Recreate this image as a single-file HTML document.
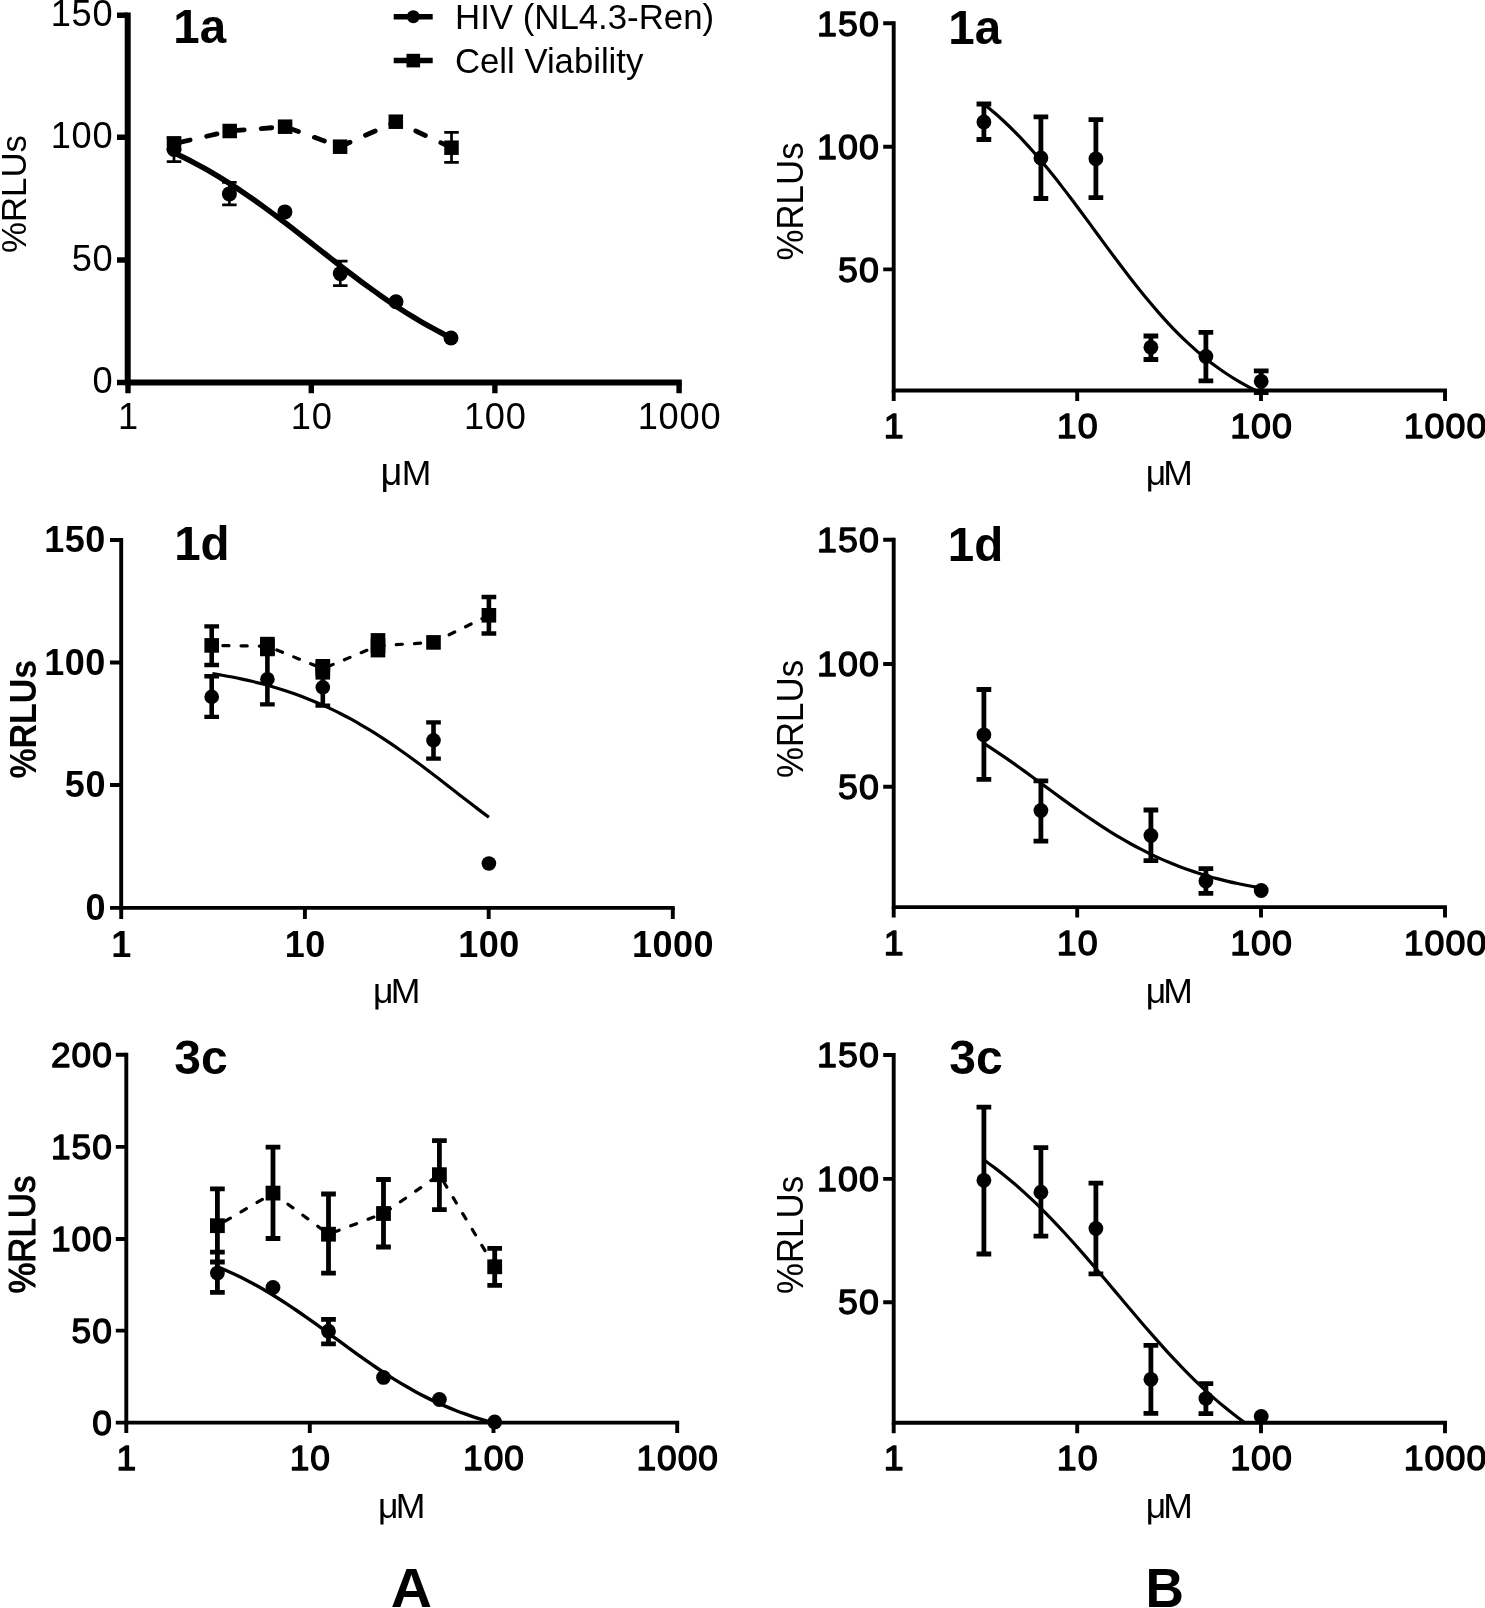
<!DOCTYPE html>
<html lang="en"><head><meta charset="utf-8"><title>Figure</title>
<style>
html,body{margin:0;padding:0;background:#fff;}
body{width:1485px;height:1608px;overflow:hidden;}
svg{display:block;filter:grayscale(1);}
text{font-family:"Liberation Sans",Arial,Helvetica,sans-serif;fill:#000;}
</style></head><body>
<svg width="1485" height="1608" viewBox="0 0 1485 1608">
<rect width="1485" height="1608" fill="#fff"/>
<g>
<path d="M127.7,12.5 V382.5 H681.8" fill="none" stroke="#000" stroke-width="6" stroke-linejoin="miter"/>
<path d="M127.7,15.2 H117 M127.7,137.3 H117 M127.7,260 H117 M127.7,382.5 H117 M128,382.5 V393.2 M311.3,382.5 V393.2 M494.9,382.5 V393.2 M679.1,382.5 V393.2" fill="none" stroke="#000" stroke-width="5.4"/>
<text x="50.7" y="26.1" font-size="36.2" letter-spacing="0.8">150</text>
<text x="50.7" y="148.2" font-size="36.2" letter-spacing="0.8">100</text>
<text x="71.63" y="270.9" font-size="36.2" letter-spacing="0.8">50</text>
<text x="92.57" y="393.4" font-size="36.2" letter-spacing="0.8">0</text>
<text x="117.93" y="429.4" font-size="36.2" letter-spacing="0.8">1</text>
<text x="290.77" y="429.4" font-size="36.2" letter-spacing="0.8">10</text>
<text x="463.9" y="429.4" font-size="36.2" letter-spacing="0.8">100</text>
<text x="637.63" y="429.4" font-size="36.2" letter-spacing="0.8">1000</text>
<polyline points="174,143.7 229.7,131 285.1,126.7 340.1,146.7 395.8,121.7 451.5,147.7" fill="none" stroke="#000" stroke-width="4.8" stroke-dasharray="10.6 17" stroke-dashoffset="21.7" stroke-linecap="round"/>
<path d="M174,152.77 C175.65,153.57 180.6,155.89 183.89,157.52 C187.19,159.16 190.49,160.84 193.79,162.58 C197.08,164.32 200.38,166.11 203.68,167.96 C206.98,169.8 210.27,171.7 213.57,173.64 C216.87,175.59 220.17,177.59 223.46,179.63 C226.76,181.68 230.06,183.77 233.36,185.91 C236.65,188.06 239.95,190.25 243.25,192.48 C246.55,194.71 249.85,196.99 253.14,199.3 C256.44,201.61 259.74,203.97 263.04,206.36 C266.33,208.75 269.63,211.17 272.93,213.62 C276.23,216.08 279.52,218.56 282.82,221.07 C286.12,223.57 289.42,226.1 292.71,228.65 C296.01,231.19 299.31,233.76 302.61,236.33 C305.9,238.9 309.2,241.48 312.5,244.06 C315.8,246.65 319.1,249.24 322.39,251.82 C325.69,254.4 328.99,256.99 332.29,259.55 C335.58,262.12 338.88,264.68 342.18,267.21 C345.48,269.75 348.77,272.27 352.07,274.77 C355.37,277.26 358.67,279.74 361.96,282.18 C365.26,284.61 368.56,287.03 371.86,289.4 C375.15,291.77 378.45,294.12 381.75,296.41 C385.05,298.71 388.35,300.97 391.64,303.18 C394.94,305.4 398.24,307.57 401.54,309.69 C404.83,311.81 408.13,313.89 411.43,315.91 C414.73,317.94 418.02,319.91 421.32,321.84 C424.62,323.76 427.92,325.64 431.21,327.46 C434.51,329.28 437.81,331.05 441.11,332.77 C444.4,334.49 449.35,336.93 451,337.76" fill="none" stroke="#000" stroke-width="5.5"/>
<path d="M451.5,132.4 V162.4 M174,137.5 V161.7 M229.4,182.4 V204.9 M340.3,261.1 V285.6" fill="none" stroke="#000" stroke-width="2.7"/>
<path d="M444.25,132.4 H458.75 M444.25,162.4 H458.75 M166.75,137.5 H181.25 M166.75,161.7 H181.25 M222.15,182.4 H236.65 M222.15,204.9 H236.65 M333.05,261.1 H347.55 M333.05,285.6 H347.55" fill="none" stroke="#000" stroke-width="2.7"/>
<rect x="166.75" y="136.45" width="14.5" height="14.5"/>
<rect x="222.45" y="123.75" width="14.5" height="14.5"/>
<rect x="277.85" y="119.45" width="14.5" height="14.5"/>
<rect x="332.85" y="139.45" width="14.5" height="14.5"/>
<rect x="388.55" y="114.45" width="14.5" height="14.5"/>
<rect x="444.25" y="140.45" width="14.5" height="14.5"/>
<circle cx="174" cy="149.4" r="7.5"/>
<circle cx="229.4" cy="193.9" r="7.5"/>
<circle cx="284.9" cy="211.9" r="7.5"/>
<circle cx="340.3" cy="273.6" r="7.5"/>
<circle cx="396" cy="301.8" r="7.5"/>
<circle cx="451" cy="338" r="7.5"/>
</g>
<g>
<path d="M121.2,538.05 V907.9 H674.75" fill="none" stroke="#000" stroke-width="3.9" stroke-linejoin="miter"/>
<path d="M121.2,540 H110 M121.2,662.5 H110 M121.2,785 H110 M121.2,907.9 H110 M121.2,907.9 V919.1 M304.9,907.9 V919.1 M488.7,907.9 V919.1 M672.8,907.9 V919.1" fill="none" stroke="#000" stroke-width="3.9"/>
<text x="44.33" y="552.3" font-size="36" font-weight="700" letter-spacing="0.5">150</text>
<text x="44.33" y="674.8" font-size="36" font-weight="700" letter-spacing="0.5">100</text>
<text x="64.86" y="797.3" font-size="36" font-weight="700" letter-spacing="0.5">50</text>
<text x="85.38" y="920.2" font-size="36" font-weight="700" letter-spacing="0.5">0</text>
<text x="111.19" y="957" font-size="36" font-weight="700" letter-spacing="0.5">1</text>
<text x="284.63" y="957" font-size="36" font-weight="700" letter-spacing="0.5">10</text>
<text x="458.17" y="957" font-size="36" font-weight="700" letter-spacing="0.5">100</text>
<text x="632.01" y="957" font-size="36" font-weight="700" letter-spacing="0.5">1000</text>
<polyline points="211.7,645.4 267.4,646.2 322.8,668.7 378,645.7 433.5,642.4 488.9,615.3" fill="none" stroke="#000" stroke-width="3.2" stroke-dasharray="6.15 12.1" stroke-dashoffset="7.15" stroke-linecap="round"/>
<path d="M212.4,673.56 C214.05,673.84 218.98,674.63 222.28,675.21 C225.57,675.79 228.86,676.4 232.15,677.05 C235.44,677.69 238.73,678.36 242.03,679.07 C245.32,679.78 248.61,680.53 251.9,681.31 C255.19,682.1 258.48,682.92 261.77,683.78 C265.07,684.65 268.36,685.55 271.65,686.5 C274.94,687.45 278.23,688.44 281.52,689.48 C284.82,690.51 288.11,691.6 291.4,692.73 C294.69,693.87 297.98,695.05 301.27,696.29 C304.57,697.53 307.86,698.82 311.15,700.16 C314.44,701.5 317.73,702.9 321.02,704.35 C324.32,705.81 327.61,707.32 330.9,708.88 C334.19,710.45 337.48,712.07 340.77,713.75 C344.07,715.43 347.36,717.17 350.65,718.97 C353.94,720.76 357.23,722.62 360.52,724.53 C363.82,726.44 367.11,728.4 370.4,730.42 C373.69,732.44 376.98,734.52 380.27,736.64 C383.57,738.77 386.86,740.95 390.15,743.17 C393.44,745.39 396.73,747.67 400.02,749.98 C403.32,752.29 406.61,754.65 409.9,757.04 C413.19,759.43 416.48,761.86 419.77,764.31 C423.07,766.77 426.36,769.26 429.65,771.76 C432.94,774.27 436.23,776.8 439.52,779.33 C442.82,781.87 446.11,784.43 449.4,786.98 C452.69,789.54 455.98,792.11 459.27,794.66 C462.57,797.21 465.86,799.77 469.15,802.31 C472.44,804.84 475.73,807.37 479.02,809.88 C482.32,812.38 487.25,816.08 488.9,817.32" fill="none" stroke="#000" stroke-width="3.2"/>
<path d="M211.7,626.4 V665 M488.9,597 V633.5 M211.7,676.2 V716.9 M267.4,654 V704.4 M322.8,669.2 V705.6 M433.5,722.4 V758.6" fill="none" stroke="#000" stroke-width="4.6"/>
<path d="M204.35,626.4 H219.05 M204.35,665 H219.05 M481.55,597 H496.25 M481.55,633.5 H496.25 M204.35,676.2 H219.05 M204.35,716.9 H219.05 M260.05,654 H274.75 M260.05,704.4 H274.75 M315.45,669.2 H330.15 M315.45,705.6 H330.15 M426.15,722.4 H440.85 M426.15,758.6 H440.85" fill="none" stroke="#000" stroke-width="4.4"/>
<rect x="260.1" y="636.8" width="14.6" height="18.6"/>
<rect x="315.5" y="659" width="14.6" height="20.6"/>
<rect x="370.7" y="633.1" width="14.6" height="24.3"/>
<rect x="204.4" y="638.1" width="14.6" height="14.6"/>
<rect x="260.1" y="638.9" width="14.6" height="14.6"/>
<rect x="315.5" y="661.4" width="14.6" height="14.6"/>
<rect x="370.7" y="638.4" width="14.6" height="14.6"/>
<rect x="426.2" y="635.1" width="14.6" height="14.6"/>
<rect x="481.6" y="608" width="14.6" height="14.6"/>
<circle cx="211.7" cy="696.9" r="7.3"/>
<circle cx="267.4" cy="679.2" r="7.3"/>
<circle cx="322.8" cy="687.4" r="7.3"/>
<circle cx="433.5" cy="740.4" r="7.3"/>
<circle cx="488.9" cy="863.5" r="7.3"/>
</g>
<g>
<path d="M126.3,1052.85 V1422.6 H679.15" fill="none" stroke="#000" stroke-width="3.9" stroke-linejoin="miter"/>
<path d="M126.3,1054.8 H115.8 M126.3,1146.9 H115.8 M126.3,1239 H115.8 M126.3,1330.6 H115.8 M126.3,1422.6 H115.8 M126.3,1422.6 V1433.1 M309.8,1422.6 V1433.1 M493.5,1422.6 V1433.1 M677.2,1422.6 V1433.1" fill="none" stroke="#000" stroke-width="3.9"/>
<text x="50.9" y="1067.15" font-size="35.3" letter-spacing="1" stroke="#000" stroke-width="1.3" stroke-linejoin="round">200</text>
<text x="50.9" y="1159.25" font-size="35.3" letter-spacing="1" stroke="#000" stroke-width="1.3" stroke-linejoin="round">150</text>
<text x="50.9" y="1251.35" font-size="35.3" letter-spacing="1" stroke="#000" stroke-width="1.3" stroke-linejoin="round">100</text>
<text x="71.53" y="1342.95" font-size="35.3" letter-spacing="1" stroke="#000" stroke-width="1.3" stroke-linejoin="round">50</text>
<text x="92.17" y="1434.95" font-size="35.3" letter-spacing="1" stroke="#000" stroke-width="1.3" stroke-linejoin="round">0</text>
<text x="116.48" y="1470.1" font-size="35.3" letter-spacing="1" stroke="#000" stroke-width="1.3" stroke-linejoin="round">1</text>
<text x="289.67" y="1470.1" font-size="35.3" letter-spacing="1" stroke="#000" stroke-width="1.3" stroke-linejoin="round">10</text>
<text x="463.05" y="1470.1" font-size="35.3" letter-spacing="1" stroke="#000" stroke-width="1.3" stroke-linejoin="round">100</text>
<text x="636.43" y="1470.1" font-size="35.3" letter-spacing="1" stroke="#000" stroke-width="1.3" stroke-linejoin="round">1000</text>
<polyline points="217.4,1225.7 273,1193.1 328.5,1234.2 383.5,1213.5 439.4,1174.7 494.7,1266.8" fill="none" stroke="#000" stroke-width="3.2" stroke-dasharray="6.2 12.35" stroke-dashoffset="9.7" stroke-linecap="round"/>
<path d="M217.4,1266.86 C219.05,1267.55 224,1269.57 227.3,1271.02 C230.6,1272.47 233.91,1273.99 237.21,1275.57 C240.51,1277.14 243.81,1278.79 247.11,1280.49 C250.41,1282.2 253.71,1283.97 257.01,1285.8 C260.32,1287.63 263.62,1289.53 266.92,1291.48 C270.22,1293.43 273.52,1295.45 276.82,1297.51 C280.12,1299.58 283.42,1301.7 286.73,1303.87 C290.03,1306.04 293.33,1308.26 296.63,1310.52 C299.93,1312.77 303.23,1315.08 306.53,1317.41 C309.83,1319.73 313.13,1322.1 316.44,1324.48 C319.74,1326.86 323.04,1329.27 326.34,1331.68 C329.64,1334.09 332.94,1336.52 336.24,1338.94 C339.54,1341.36 342.85,1343.79 346.15,1346.19 C349.45,1348.6 352.75,1351 356.05,1353.37 C359.35,1355.74 362.65,1358.09 365.95,1360.41 C369.25,1362.72 372.56,1365.01 375.86,1367.24 C379.16,1369.48 382.46,1371.68 385.76,1373.82 C389.06,1375.97 392.36,1378.07 395.66,1380.11 C398.97,1382.15 402.27,1384.14 405.57,1386.06 C408.87,1387.98 412.17,1389.85 415.47,1391.65 C418.77,1393.45 422.07,1395.2 425.38,1396.87 C428.68,1398.55 431.98,1400.16 435.28,1401.71 C438.58,1403.25 441.88,1404.74 445.18,1406.16 C448.48,1407.58 451.78,1408.94 455.09,1410.24 C458.39,1411.53 461.69,1412.77 464.99,1413.95 C468.29,1415.13 471.59,1416.25 474.89,1417.31 C478.19,1418.38 481.5,1419.39 484.8,1420.35 C488.1,1421.31 493.05,1422.63 494.7,1423.08" fill="none" stroke="#000" stroke-width="3.4"/>
<path d="M217.4,1188.9 V1262 M273,1147.2 V1238.5 M328.5,1194 V1273.1 M383.5,1179.5 V1247 M439.4,1140.7 V1209.6 M494.7,1248.4 V1285.3 M217.4,1252.1 V1292.3 M328.5,1319.3 V1343.9" fill="none" stroke="#000" stroke-width="4.8"/>
<path d="M210.05,1188.9 H224.75 M210.05,1262 H224.75 M265.65,1147.2 H280.35 M265.65,1238.5 H280.35 M321.15,1194 H335.85 M321.15,1273.1 H335.85 M376.15,1179.5 H390.85 M376.15,1247 H390.85 M432.05,1140.7 H446.75 M432.05,1209.6 H446.75 M487.35,1248.4 H502.05 M487.35,1285.3 H502.05 M210.05,1252.1 H224.75 M210.05,1292.3 H224.75 M321.15,1319.3 H335.85 M321.15,1343.9 H335.85" fill="none" stroke="#000" stroke-width="4.8"/>
<rect x="210" y="1218.3" width="14.8" height="14.8"/>
<rect x="265.6" y="1185.7" width="14.8" height="14.8"/>
<rect x="321.1" y="1226.8" width="14.8" height="14.8"/>
<rect x="376.1" y="1206.1" width="14.8" height="14.8"/>
<rect x="432" y="1167.3" width="14.8" height="14.8"/>
<rect x="487.3" y="1259.4" width="14.8" height="14.8"/>
<circle cx="217.4" cy="1273.1" r="7.4"/>
<circle cx="273" cy="1287.5" r="7.4"/>
<circle cx="328.5" cy="1331.2" r="7.4"/>
<circle cx="383.5" cy="1377.4" r="7.4"/>
<circle cx="439.4" cy="1399.5" r="7.4"/>
<circle cx="494.7" cy="1421.9" r="7.4"/>
</g>
<g>
<path d="M893.7,21.25 V390.5 H1446.95" fill="none" stroke="#000" stroke-width="3.9" stroke-linejoin="miter"/>
<path d="M893.7,23.2 H883.2 M893.7,146.7 H883.2 M893.7,269.4 H883.2 M893.7,390.5 V401 M1077.2,390.5 V401 M1261,390.5 V401 M1445,390.5 V401" fill="none" stroke="#000" stroke-width="3.9"/>
<text x="817.07" y="35.65" font-size="35.8" letter-spacing="1" stroke="#000" stroke-width="1.3" stroke-linejoin="round">150</text>
<text x="817.07" y="159.15" font-size="35.8" letter-spacing="1" stroke="#000" stroke-width="1.3" stroke-linejoin="round">100</text>
<text x="837.98" y="281.85" font-size="35.8" letter-spacing="1" stroke="#000" stroke-width="1.3" stroke-linejoin="round">50</text>
<text x="883.74" y="438" font-size="35.8" letter-spacing="1" stroke="#000" stroke-width="1.3" stroke-linejoin="round">1</text>
<text x="1056.79" y="438" font-size="35.8" letter-spacing="1" stroke="#000" stroke-width="1.3" stroke-linejoin="round">10</text>
<text x="1230.13" y="438" font-size="35.8" letter-spacing="1" stroke="#000" stroke-width="1.3" stroke-linejoin="round">100</text>
<text x="1403.68" y="438" font-size="35.8" letter-spacing="1" stroke="#000" stroke-width="1.3" stroke-linejoin="round">1000</text>
<path d="M984.8,104.79 C986.41,106.13 991.25,110.02 994.47,112.8 C997.69,115.58 1000.91,118.48 1004.14,121.49 C1007.36,124.49 1010.58,127.62 1013.8,130.85 C1017.03,134.08 1020.25,137.42 1023.47,140.87 C1026.69,144.32 1029.92,147.88 1033.14,151.54 C1036.36,155.19 1039.58,158.96 1042.81,162.8 C1046.03,166.64 1049.25,170.59 1052.47,174.6 C1055.7,178.62 1058.92,182.72 1062.14,186.88 C1065.37,191.03 1068.59,195.27 1071.81,199.54 C1075.03,203.8 1078.26,208.13 1081.48,212.48 C1084.7,216.82 1087.92,221.21 1091.15,225.59 C1094.37,229.97 1097.59,234.39 1100.81,238.77 C1104.04,243.15 1107.26,247.54 1110.48,251.89 C1113.7,256.23 1116.93,260.56 1120.15,264.83 C1123.37,269.1 1126.6,273.34 1129.82,277.49 C1133.04,281.65 1136.26,285.76 1139.49,289.78 C1142.71,293.79 1145.93,297.74 1149.15,301.59 C1152.38,305.44 1155.6,309.21 1158.82,312.87 C1162.04,316.52 1165.27,320.09 1168.49,323.54 C1171.71,326.99 1174.93,330.34 1178.16,333.58 C1181.38,336.81 1184.6,339.94 1187.83,342.95 C1191.05,345.96 1194.27,348.86 1197.49,351.65 C1200.72,354.44 1203.94,357.11 1207.16,359.67 C1210.38,362.24 1213.61,364.69 1216.83,367.03 C1220.05,369.38 1223.27,371.62 1226.5,373.75 C1229.72,375.89 1232.94,377.92 1236.16,379.86 C1239.39,381.8 1242.61,383.64 1245.83,385.39 C1249.05,387.14 1253.89,389.54 1255.5,390.37" fill="none" stroke="#000" stroke-width="3.2"/>
<path d="M983.9,104 V139.5 M1040.9,116.8 V198.5 M1095.9,119.6 V197.6 M1150.9,336 V359.5 M1205.9,332.3 V380.8 M1261.2,370.9 V392.7" fill="none" stroke="#000" stroke-width="4.8"/>
<path d="M976.55,104 H991.25 M976.55,139.5 H991.25 M1033.55,116.8 H1048.25 M1033.55,198.5 H1048.25 M1088.55,119.6 H1103.25 M1088.55,197.6 H1103.25 M1143.55,336 H1158.25 M1143.55,359.5 H1158.25 M1198.55,332.3 H1213.25 M1198.55,380.8 H1213.25 M1253.85,370.9 H1268.55 M1253.85,392.7 H1268.55" fill="none" stroke="#000" stroke-width="4.8"/>
<circle cx="983.9" cy="121.9" r="7.4"/>
<circle cx="1040.9" cy="157.9" r="7.4"/>
<circle cx="1095.9" cy="158.8" r="7.4"/>
<circle cx="1150.9" cy="347.3" r="7.4"/>
<circle cx="1205.9" cy="356.4" r="7.4"/>
<circle cx="1261.2" cy="381.3" r="7.4"/>
</g>
<g>
<path d="M893.7,537.85 V907.1 H1446.95" fill="none" stroke="#000" stroke-width="3.9" stroke-linejoin="miter"/>
<path d="M893.7,539.8 H883.2 M893.7,664 H883.2 M893.7,786.7 H883.2 M893.7,907.1 V917.6 M1077.2,907.1 V917.6 M1261,907.1 V917.6 M1445,907.1 V917.6" fill="none" stroke="#000" stroke-width="3.9"/>
<text x="817.07" y="551.65" font-size="35.8" letter-spacing="1" stroke="#000" stroke-width="1.3" stroke-linejoin="round">150</text>
<text x="817.07" y="675.85" font-size="35.8" letter-spacing="1" stroke="#000" stroke-width="1.3" stroke-linejoin="round">100</text>
<text x="837.98" y="798.55" font-size="35.8" letter-spacing="1" stroke="#000" stroke-width="1.3" stroke-linejoin="round">50</text>
<text x="883.74" y="954.7" font-size="35.8" letter-spacing="1" stroke="#000" stroke-width="1.3" stroke-linejoin="round">1</text>
<text x="1056.79" y="954.7" font-size="35.8" letter-spacing="1" stroke="#000" stroke-width="1.3" stroke-linejoin="round">10</text>
<text x="1230.13" y="954.7" font-size="35.8" letter-spacing="1" stroke="#000" stroke-width="1.3" stroke-linejoin="round">100</text>
<text x="1403.68" y="954.7" font-size="35.8" letter-spacing="1" stroke="#000" stroke-width="1.3" stroke-linejoin="round">1000</text>
<path d="M984.8,744.01 C986.42,745.06 991.28,748.18 994.52,750.33 C997.76,752.47 1001,754.67 1004.24,756.9 C1007.48,759.12 1010.72,761.39 1013.96,763.68 C1017.2,765.97 1020.45,768.29 1023.69,770.63 C1026.93,772.97 1030.17,775.33 1033.41,777.7 C1036.65,780.07 1039.89,782.46 1043.13,784.84 C1046.37,787.23 1049.61,789.62 1052.85,792 C1056.09,794.38 1059.33,796.75 1062.57,799.11 C1065.81,801.46 1069.05,803.81 1072.29,806.13 C1075.53,808.44 1078.77,810.74 1082.01,813 C1085.25,815.25 1088.5,817.49 1091.74,819.67 C1094.98,821.86 1098.22,824.01 1101.46,826.12 C1104.7,828.22 1107.94,830.28 1111.18,832.29 C1114.42,834.3 1117.66,836.26 1120.9,838.17 C1124.14,840.07 1127.38,841.93 1130.62,843.73 C1133.86,845.52 1137.1,847.27 1140.34,848.95 C1143.58,850.64 1146.82,852.27 1150.06,853.84 C1153.3,855.41 1156.55,856.93 1159.79,858.38 C1163.03,859.84 1166.27,861.24 1169.51,862.59 C1172.75,863.94 1175.99,865.23 1179.23,866.46 C1182.47,867.7 1185.71,868.88 1188.95,870.02 C1192.19,871.15 1195.43,872.23 1198.67,873.27 C1201.91,874.3 1205.15,875.28 1208.39,876.22 C1211.63,877.16 1214.87,878.06 1218.11,878.91 C1221.35,879.76 1224.6,880.57 1227.84,881.34 C1231.08,882.11 1234.32,882.84 1237.56,883.53 C1240.8,884.23 1244.04,884.89 1247.28,885.51 C1250.52,886.14 1255.38,886.99 1257,887.29" fill="none" stroke="#000" stroke-width="3.2"/>
<path d="M983.9,689.5 V779.4 M1040.9,780.8 V841.2 M1150.9,810 V860.7 M1205.9,868.7 V893.3" fill="none" stroke="#000" stroke-width="4.8"/>
<path d="M976.55,689.5 H991.25 M976.55,779.4 H991.25 M1033.55,780.8 H1048.25 M1033.55,841.2 H1048.25 M1143.55,810 H1158.25 M1143.55,860.7 H1158.25 M1198.55,868.7 H1213.25 M1198.55,893.3 H1213.25" fill="none" stroke="#000" stroke-width="4.8"/>
<circle cx="983.9" cy="734.8" r="7.4"/>
<circle cx="1040.9" cy="810.5" r="7.4"/>
<circle cx="1150.9" cy="835.5" r="7.4"/>
<circle cx="1205.9" cy="880.9" r="7.4"/>
<circle cx="1261.2" cy="890.5" r="7.4"/>
</g>
<g>
<path d="M893.7,1053.05 V1422.7 H1446.95" fill="none" stroke="#000" stroke-width="3.9" stroke-linejoin="miter"/>
<path d="M893.7,1055 H883.2 M893.7,1178.9 H883.2 M893.7,1302.2 H883.2 M893.7,1422.7 V1433.2 M1077.2,1422.7 V1433.2 M1261,1422.7 V1433.2 M1445,1422.7 V1433.2" fill="none" stroke="#000" stroke-width="3.9"/>
<text x="817.07" y="1067.15" font-size="35.8" letter-spacing="1" stroke="#000" stroke-width="1.3" stroke-linejoin="round">150</text>
<text x="817.07" y="1191.05" font-size="35.8" letter-spacing="1" stroke="#000" stroke-width="1.3" stroke-linejoin="round">100</text>
<text x="837.98" y="1314.35" font-size="35.8" letter-spacing="1" stroke="#000" stroke-width="1.3" stroke-linejoin="round">50</text>
<text x="883.74" y="1470" font-size="35.8" letter-spacing="1" stroke="#000" stroke-width="1.3" stroke-linejoin="round">1</text>
<text x="1056.79" y="1470" font-size="35.8" letter-spacing="1" stroke="#000" stroke-width="1.3" stroke-linejoin="round">10</text>
<text x="1230.13" y="1470" font-size="35.8" letter-spacing="1" stroke="#000" stroke-width="1.3" stroke-linejoin="round">100</text>
<text x="1403.68" y="1470" font-size="35.8" letter-spacing="1" stroke="#000" stroke-width="1.3" stroke-linejoin="round">1000</text>
<path d="M984.8,1160.62 C986.46,1161.83 991.45,1165.38 994.78,1167.89 C998.1,1170.4 1001.43,1173 1004.75,1175.68 C1008.08,1178.37 1011.41,1181.15 1014.73,1184.01 C1018.06,1186.87 1021.38,1189.82 1024.71,1192.85 C1028.03,1195.88 1031.36,1199 1034.68,1202.2 C1038.01,1205.39 1041.34,1208.67 1044.66,1212.03 C1047.99,1215.38 1051.31,1218.81 1054.64,1222.31 C1057.96,1225.81 1061.29,1229.38 1064.62,1233 C1067.94,1236.63 1071.27,1240.32 1074.59,1244.06 C1077.92,1247.8 1081.24,1251.59 1084.57,1255.42 C1087.89,1259.25 1091.22,1263.12 1094.55,1267.02 C1097.87,1270.91 1101.2,1274.85 1104.52,1278.78 C1107.85,1282.72 1111.17,1286.69 1114.5,1290.64 C1117.83,1294.59 1121.15,1298.56 1124.48,1302.51 C1127.8,1306.45 1131.13,1310.4 1134.45,1314.31 C1137.78,1318.22 1141.11,1322.12 1144.43,1325.97 C1147.76,1329.83 1151.08,1333.65 1154.41,1337.42 C1157.73,1341.19 1161.06,1344.92 1164.38,1348.59 C1167.71,1352.25 1171.04,1355.87 1174.36,1359.41 C1177.69,1362.95 1181.01,1366.43 1184.34,1369.83 C1187.66,1373.24 1190.99,1376.57 1194.32,1379.82 C1197.64,1383.07 1200.97,1386.25 1204.29,1389.33 C1207.62,1392.42 1210.94,1395.43 1214.27,1398.35 C1217.59,1401.27 1220.92,1404.1 1224.25,1406.84 C1227.57,1409.59 1230.9,1412.25 1234.22,1414.82 C1237.55,1417.39 1242.54,1421.02 1244.2,1422.26" fill="none" stroke="#000" stroke-width="3.2"/>
<path d="M983.9,1107.1 V1254 M1040.9,1147.7 V1236.1 M1095.9,1183.1 V1273.8 M1150.9,1345.3 V1413.3 M1205.9,1383.6 V1413.6" fill="none" stroke="#000" stroke-width="4.8"/>
<path d="M976.55,1107.1 H991.25 M976.55,1254 H991.25 M1033.55,1147.7 H1048.25 M1033.55,1236.1 H1048.25 M1088.55,1183.1 H1103.25 M1088.55,1273.8 H1103.25 M1143.55,1345.3 H1158.25 M1143.55,1413.3 H1158.25 M1198.55,1383.6 H1213.25 M1198.55,1413.6 H1213.25" fill="none" stroke="#000" stroke-width="4.8"/>
<circle cx="983.9" cy="1180.3" r="7.4"/>
<circle cx="1040.9" cy="1192.2" r="7.4"/>
<circle cx="1095.9" cy="1228.5" r="7.4"/>
<circle cx="1150.9" cy="1379.3" r="7.4"/>
<circle cx="1205.9" cy="1398.6" r="7.4"/>
<circle cx="1261.2" cy="1416.4" r="7.4"/>
</g>
<text x="173.3" y="43" font-size="47.5" font-weight="700">1a</text>
<text x="174.2" y="560.4" font-size="47.5" font-weight="700">1d</text>
<text x="174.2" y="1073.6" font-size="48" font-weight="700">3c</text>
<text x="948.3" y="43.6" font-size="47.5" font-weight="700">1a</text>
<text x="947.8" y="560.7" font-size="47.5" font-weight="700">1d</text>
<text x="949.2" y="1074.2" font-size="48" font-weight="700">3c</text>
<text transform="translate(26.3,194) rotate(-90) scale(0.9650,1)" x="-61.02" y="0" font-size="36">%RLUs</text>
<text transform="translate(36.2,719.2) rotate(-90) scale(0.9300,1)" x="-63.89" y="0" font-size="36.5" font-weight="700">%RLUs</text>
<text transform="translate(35,1234.6) rotate(-90) scale(0.9620,1)" x="-61.35" y="0" font-size="36.2" stroke="#000" stroke-width="1.1" stroke-linejoin="round">%RLUs</text>
<text transform="translate(802.5,201.5) rotate(-90) scale(0.9530,1)" x="-62.03" y="0" font-size="36.6">%RLUs</text>
<text transform="translate(802.5,719) rotate(-90) scale(0.9530,1)" x="-62.03" y="0" font-size="36.6">%RLUs</text>
<text transform="translate(802.5,1235) rotate(-90) scale(0.9530,1)" x="-62.03" y="0" font-size="36.6">%RLUs</text>
<text x="380.5" y="484.8" font-size="38" font-family="'Liberation Serif',serif">μ</text>
<text x="401.8" y="484.8" font-size="35.5">M</text>
<text x="373.12" y="1002.6" font-size="35.6" letter-spacing="-2.8">μM</text>
<text x="378.12" y="1518.1" font-size="35.6" letter-spacing="-2.8">μM</text>
<text x="1145.64" y="485.2" font-size="35.5" letter-spacing="-2.9">μM</text>
<text x="1145.64" y="1002.6" font-size="35.5" letter-spacing="-2.9">μM</text>
<text x="1145.64" y="1517.6" font-size="35.5" letter-spacing="-2.9">μM</text>
<text transform="translate(390.67,1607) scale(1.0200,1)" font-size="56" font-weight="700">A</text>
<text transform="translate(1145.39,1607) scale(0.9500,1)" font-size="56" font-weight="700">B</text>
<path d="M393.7,16.7 H432.7 M393.7,60.6 H432.7" stroke="#000" stroke-width="5.5" fill="none"/>
<circle cx="413.3" cy="16.7" r="6.5"/>
<rect x="406.5" y="53.8" width="13.6" height="13.6"/>
<text x="455" y="29" font-size="34.8">HIV (NL4.3-Ren)</text>
<text x="455" y="72.9" font-size="34.7">Cell Viability</text>
</svg>
</body></html>
